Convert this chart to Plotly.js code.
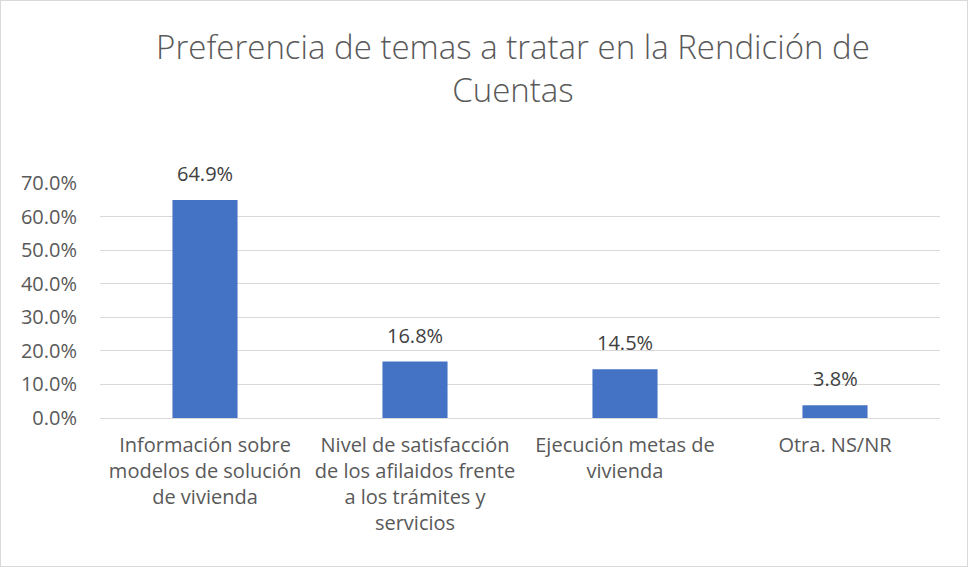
<!DOCTYPE html>
<html>
<head>
<meta charset="utf-8">
<script src="https://cdn.plot.ly/plotly-3.0.1.min.js"></script>
<style>
html,body{margin:0;padding:0;background:#fff;}
#chart{width:966px;height:565px;border:1px solid #d9d9d9;}
</style>
</head>
<body>
<div id="chart"></div>
<script>
const categories = [
  "Información sobre<br>modelos de solución<br>de vivienda",
  "Nivel de satisfacción<br>de los afilaidos frente<br>a los trámites y<br>servicios",
  "Ejecución metas de<br>vivienda",
  "Otra. NS/NR"
];
const values = [0.649, 0.168, 0.145, 0.038];
const valueLabels = ["64.9%", "16.8%", "14.5%", "3.8%"];
const titleText = "Preferencia de temas a tratar en la Rendición de<br>Cuentas";

const FONT = "'Open Sans', sans-serif";
const trace = {
  type: "bar",
  x: categories,
  y: values,
  marker: {color: "#4472C4"},
  hoverinfo: "skip"
};
const annotations = categories.map((c, i) => ({
  x: c, y: values[i], xref: "x", yref: "y",
  text: valueLabels[i], showarrow: false,
  yanchor: "bottom", yshift: 11,
  font: {family: FONT, size: 20, color: "#404040"}
}));
const layout = {
  width: 966, height: 565,
  margin: {l: 99, r: 27, t: 182, b: 148},
  paper_bgcolor: "#fff", plot_bgcolor: "#fff",
  font: {family: FONT, color: "#595959", size: 18},
  title: {text: titleText, font: {family: FONT, size: 33, color: "#595959", weight: 300},
          x: 0.53, xanchor: "center", y: 0.897, yanchor: "middle", yref: "container", xref: "container"},
  bargap: 0.69,
  showlegend: false,
  annotations: annotations,
  xaxis: {tickfont: {family: FONT, size: 20, color: "#595959"}, showgrid: false,
          showline: false, ticks: "", fixedrange: true, ticklabelstandoff: 13},
  yaxis: {range: [0, 0.7], dtick: 0.1, tickformat: ".1%", gridcolor: "#d9d9d9", gridwidth: 1,
          zeroline: true, zerolinecolor: "#d9d9d9", zerolinewidth: 1,
          showline: false, ticks: "", ticklabelstandoff: 22,
          tickfont: {family: FONT, size: 20, color: "#595959"}}
};
Plotly.newPlot("chart", [trace], layout, {displayModeBar: false, staticPlot: true});
</script>
</body>
</html>
